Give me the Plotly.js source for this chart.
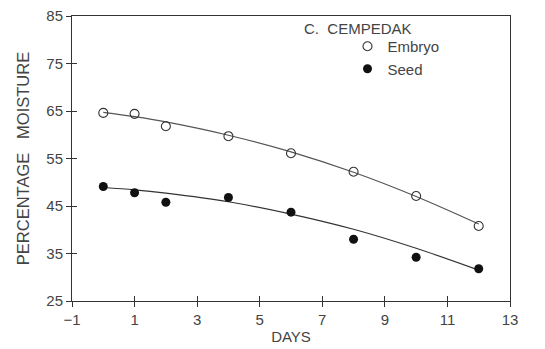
<!DOCTYPE html>
<html><head><meta charset="utf-8">
<script src="https://cdn.plot.ly/plotly-3.0.1.min.js"></script>
<style>body{margin:0;background:#fff}#c{width:545px;height:349px}</style>
</head><body><div id="c"></div>
<script>
var days = [0, 1, 2, 4, 6, 8, 10, 12];
var embryo = [64.6, 64.4, 61.8, 59.7, 56.1, 52.2, 47.1, 40.8];
var seed = [49.1, 47.8, 45.8, 46.8, 43.7, 38.0, 34.2, 31.8];
var embryoFit = [64.7, 63.8, 62.7, 59.9, 56.4, 52.1, 47.0, 41.2];
var seedFit = [48.9, 48.4, 47.7, 45.9, 43.3, 40.1, 36.1, 31.5];
var xTicks = [-1, 1, 3, 5, 7, 9, 11, 13];
var yTicks = [25, 35, 45, 55, 65, 75, 85];

var ink = '#333';
var fam = 'Liberation Sans, Arial, sans-serif';
var txt = '#444';

var traces = [
  {x: days, y: embryoFit, mode: 'lines', line: {color: '#555', width: 1.2, shape: 'spline', smoothing: 1}, showlegend: false, hoverinfo: 'skip'},
  {x: days, y: seedFit, mode: 'lines', line: {color: '#333', width: 1.2, shape: 'spline', smoothing: 1}, showlegend: false, hoverinfo: 'skip'},
  {x: days, y: embryo, mode: 'markers', name: 'Embryo',
   marker: {symbol: 'circle-open', size: 9, color: '#333', line: {width: 1.1, color: '#333'}}},
  {x: days, y: seed, mode: 'markers', name: 'Seed',
   marker: {symbol: 'circle', size: 9, color: '#111'}},
  // invisible trace on the overlay axes, which only draw the inner half of the crossing ticks
  {x: days, y: seed, xaxis: 'x2', yaxis: 'y2', mode: 'markers', marker: {opacity: 0}, showlegend: false, hoverinfo: 'skip'}
];

var layout = {
  width: 545, height: 349,
  margin: {l: 72, r: 35, t: 16, b: 48},
  paper_bgcolor: '#fff', plot_bgcolor: '#fff',
  font: {family: fam, size: 15, color: txt},
  showlegend: true,
  legend: {x: 0.629, y: 0.951, xanchor: 'left', yanchor: 'top', bgcolor: 'rgba(0,0,0,0)',
           font: {family: fam, size: 15, color: txt}, tracegroupgap: 0},
  xaxis: {range: [-1, 13], tickvals: xTicks, ticks: 'outside', ticklen: 5, tickcolor: ink, showline: true, mirror: true, linecolor: ink,
    showgrid: false, zeroline: false, tickfont: {family: fam, size: 15, color: txt},
    title: {text: 'DAYS', font: {family: fam, size: 15, color: txt}, standoff: 4}},
  yaxis: {range: [25, 85], tickvals: yTicks, ticks: 'outside', ticklen: 5, tickcolor: ink, showline: true, mirror: true, linecolor: ink,
    showgrid: false, zeroline: false, tickfont: {family: fam, size: 15, color: txt},
    title: {text: 'PERCENTAGE&nbsp;&nbsp;&nbsp;MOISTURE', font: {family: fam, size: 16.5, color: txt}, standoff: 12}},
  xaxis2: {range: [-1, 13], tickvals: xTicks, ticks: 'inside', ticklen: 5, tickcolor: ink, overlaying: 'x', showticklabels: false, showgrid: false, zeroline: false},
  yaxis2: {range: [25, 85], tickvals: yTicks, ticks: 'inside', ticklen: 5, tickcolor: ink, overlaying: 'y', showticklabels: false, showgrid: false, zeroline: false},
  annotations: [{text: 'C.&nbsp;&nbsp;CEMPEDAK', xref: 'paper', yref: 'paper', x: 0.525, y: 0.955, xanchor: 'left', yanchor: 'middle',
    showarrow: false, font: {family: fam, size: 15, color: txt}}]
};

Plotly.newPlot('c', traces, layout, {staticPlot: true});
</script></body></html>
